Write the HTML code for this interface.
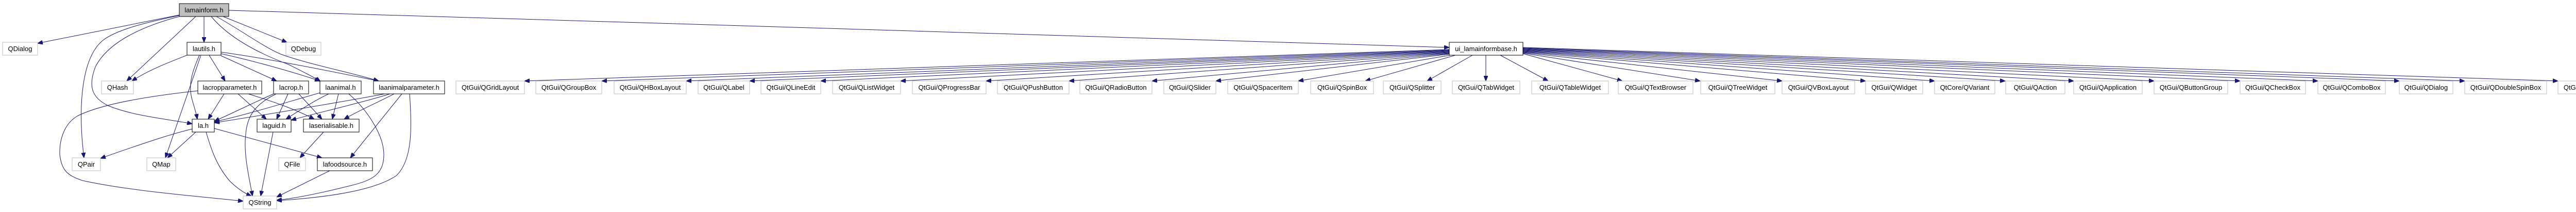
<!DOCTYPE html>
<html><head><meta charset="utf-8"><style>
html,body{margin:0;padding:0;background:#fff;width:5077px;height:411px;overflow:hidden;}
svg{display:block;}
text{font-family:"Liberation Sans",Arial,sans-serif;font-size:13px;fill:#000;text-anchor:middle;}
.n{fill:#fff;stroke:#000;stroke-width:1;}
.g{fill:#fff;stroke:#bfbfbf;stroke-width:1;}
.e{fill:none;stroke:#191970;stroke-width:1;marker-end:url(#a);}
</style></head><body>
<svg width="5077" height="411" viewBox="0 0 5077 411" xmlns="http://www.w3.org/2000/svg">
<defs><marker id="a" markerUnits="userSpaceOnUse" markerWidth="11" markerHeight="8" refX="10" refY="4" orient="auto"><path d="M0,0 L10,4 L0,8 z" fill="#191970" stroke="#191970"/></marker></defs>

<path class="e" d="M348,29 L73,84"/>
<path class="e" d="M348,30 C300,40 230,55 200,78 C160,110 150,200 163,306"/>
<path class="e" d="M348,32 C280,50 210,80 185,130 C170,170 180,190 210,205 C260,225 320,230 373,240"/>
<path class="e" d="M380,32 L246,157"/>
<path class="e" d="M396,32 L396,82"/>
<path class="e" d="M433,32 L557,82"/>
<path class="e" d="M410,32 C450,80 520,110 560,125 C590,140 610,150 622,158"/>
<path class="e" d="M420,32 C470,60 510,90 545,105 C600,125 680,140 735,157"/>
<path class="e" d="M444,20 C1200,40 2300,80 2813,92"/>

<path class="e" d="M363,107 C330,120 290,135 256,157"/>
<path class="e" d="M390,107 L321,306"/>
<path class="e" d="M387,107 C375,135 365,160 372,190 C376,205 380,215 383,231"/>
<path class="e" d="M406,107 L437,157"/>
<path class="e" d="M429,108 L537,157"/>
<path class="e" d="M429,104 C500,120 570,140 621,157"/>
<path class="e" d="M429,101 C530,115 650,140 735,157"/>

<path class="e" d="M384,176 C300,185 200,200 150,225 C125,240 115,270 116,300 C120,330 130,340 160,350 C250,370 380,380 472,390"/>
<path class="e" d="M435,182 L404,231"/>
<path class="e" d="M462,182 L517,231"/>
<path class="e" d="M482,182 C540,200 580,215 610,231"/>

<path class="e" d="M531,182 C490,200 450,220 416,235"/>
<path class="e" d="M536,182 C500,200 480,220 477,260 C472,300 485,350 490,380"/>
<path class="e" d="M559,182 L537,231"/>
<path class="e" d="M580,182 L625,231"/>

<path class="e" d="M621,180 C550,200 470,225 416,236"/>
<path class="e" d="M638,182 C610,195 580,215 555,231"/>
<path class="e" d="M657,182 L645,231"/>
<path class="e" d="M677,182 C710,210 745,260 745,300 C745,340 720,350 680,360 C620,375 570,385 537,388"/>

<path class="e" d="M747,182 C650,200 500,225 416,238"/>
<path class="e" d="M757,182 C700,200 610,220 565,233"/>
<path class="e" d="M765,182 C730,200 695,215 668,231"/>
<path class="e" d="M780,182 L680,306"/>
<path class="e" d="M795,182 C800,250 800,310 770,340 C720,375 600,385 537,389"/>

<path class="e" d="M373,250 C340,258 300,270 195,307"/>
<path class="e" d="M380,256 L325,306"/>
<path class="e" d="M400,256 C410,290 420,320 445,350 C460,365 475,375 488,380"/>
<path class="e" d="M416,249 L625,306"/>
<path class="e" d="M530,256 L506,380"/>
<path class="e" d="M628,256 L582,306"/>
<path class="e" d="M640,331 L537,382"/>

<path class="e" d="M2813,96 L1018,157"/>
<path class="e" d="M2813,97 L1168,157"/>
<path class="e" d="M2813,98 L1332,157"/>
<path class="e" d="M2813,99 L1455,157"/>
<path class="e" d="M2813,100 L1593,157"/>
<path class="e" d="M2813,101 L1748,157"/>
<path class="e" d="M2813,102 L1914,157"/>
<path class="e" d="M2813,103 L2075,157"/>
<path class="e" d="M2813,104 L2236,157"/>
<path class="e" d="M2813,105 L2360,157"/>
<path class="e" d="M2815,107 L2520,157"/>
<path class="e" d="M2825,107 L2650,157"/>
<path class="e" d="M2858,107 L2770,157"/>
<path class="e" d="M2884,107 L2884,157"/>
<path class="e" d="M2912,107 L3005,157"/>
<path class="e" d="M2956,104 L3149,157"/>
<path class="e" d="M2956,103 L3300,157"/>
<path class="e" d="M2956,102 L3459,157"/>
<path class="e" d="M2956,101 L3621,157"/>
<path class="e" d="M2956,100 L3755,157"/>
<path class="e" d="M2956,99 L3892,157"/>
<path class="e" d="M2956,98 L4025,157"/>
<path class="e" d="M2956,97 L4181,157"/>
<path class="e" d="M2956,96 L4348,157"/>
<path class="e" d="M2956,95 L4499,157"/>
<path class="e" d="M2956,94 L4657,157"/>
<path class="e" d="M2956,93 L4784,157"/>
<path class="e" d="M2956,92 L4965,157"/>

<rect x="348" y="7" width="96" height="25" fill="#bfbfbf" stroke="#000"/><text x="396" y="24">lamainform.h</text>
<rect class="n" x="363" y="82" width="66" height="25"/><text x="396" y="99">lautils.h</text>
<rect class="g" x="5" y="82" width="68" height="25"/><text x="39" y="99">QDialog</text>
<rect class="g" x="555" y="82" width="68" height="25"/><text x="589" y="99">QDebug</text>
<rect class="g" x="197" y="157" width="62" height="25"/><text x="228" y="174">QHash</text>
<rect class="n" x="384" y="157" width="124" height="25"/><text x="446" y="174">lacropparameter.h</text>
<rect class="n" x="531" y="157" width="68" height="25"/><text x="565" y="174">lacrop.h</text>
<rect class="n" x="621" y="157" width="80" height="25"/><text x="661" y="174">laanimal.h</text>
<rect class="n" x="725" y="157" width="138" height="25"/><text x="794" y="174">laanimalparameter.h</text>
<rect class="n" x="373" y="231" width="43" height="25"/><text x="394.5" y="248">la.h</text>
<rect class="n" x="499" y="231" width="66" height="25"/><text x="532" y="248">laguid.h</text>
<rect class="n" x="589" y="231" width="108" height="25"/><text x="643" y="248">laserialisable.h</text>
<rect class="g" x="140" y="306" width="55" height="25"/><text x="167.5" y="323">QPair</text>
<rect class="g" x="285" y="306" width="56" height="25"/><text x="313" y="323">QMap</text>
<rect class="g" x="541" y="306" width="52" height="25"/><text x="567" y="323">QFile</text>
<rect class="n" x="616" y="306" width="107" height="25"/><text x="669.5" y="323">lafoodsource.h</text>
<rect class="g" x="472" y="380" width="65" height="25"/><text x="504.5" y="397">QString</text>
<rect class="n" x="2813" y="82" width="143" height="25"/><text x="2884.5" y="99">ui_lamainformbase.h</text>

<rect class="g" x="885" y="157" width="133" height="25"/><text x="951.5" y="174">QtGui/QGridLayout</text>
<rect class="g" x="1040" y="157" width="128" height="25"/><text x="1104" y="174">QtGui/QGroupBox</text>
<rect class="g" x="1192" y="157" width="140" height="25"/><text x="1262" y="174">QtGui/QHBoxLayout</text>
<rect class="g" x="1355" y="157" width="100" height="25"/><text x="1405" y="174">QtGui/QLabel</text>
<rect class="g" x="1477" y="157" width="116" height="25"/><text x="1535" y="174">QtGui/QLineEdit</text>
<rect class="g" x="1616" y="157" width="132" height="25"/><text x="1682" y="174">QtGui/QListWidget</text>
<rect class="g" x="1771" y="157" width="143" height="25"/><text x="1842.5" y="174">QtGui/QProgressBar</text>
<rect class="g" x="1936" y="157" width="139" height="25"/><text x="2005.5" y="174">QtGui/QPushButton</text>
<rect class="g" x="2096" y="157" width="140" height="25"/><text x="2166" y="174">QtGui/QRadioButton</text>
<rect class="g" x="2259" y="157" width="101" height="25"/><text x="2309.5" y="174">QtGui/QSlider</text>
<rect class="g" x="2383" y="157" width="137" height="25"/><text x="2451.5" y="174">QtGui/QSpacerItem</text>
<rect class="g" x="2544" y="157" width="122" height="25"/><text x="2605" y="174">QtGui/QSpinBox</text>
<rect class="g" x="2685" y="157" width="112" height="25"/><text x="2741" y="174">QtGui/QSplitter</text>
<rect class="g" x="2819" y="157" width="131" height="25"/><text x="2884.5" y="174">QtGui/QTabWidget</text>
<rect class="g" x="2973" y="157" width="149" height="25"/><text x="3047.5" y="174">QtGui/QTableWidget</text>
<rect class="g" x="3141" y="157" width="145" height="25"/><text x="3213.5" y="174">QtGui/QTextBrowser</text>
<rect class="g" x="3301" y="157" width="144" height="25"/><text x="3373" y="174">QtGui/QTreeWidget</text>
<rect class="g" x="3459" y="157" width="141" height="25"/><text x="3529.5" y="174">QtGui/QVBoxLayout</text>
<rect class="g" x="3621" y="157" width="111" height="25"/><text x="3676.5" y="174">QtGui/QWidget</text>
<rect class="g" x="3755" y="157" width="117" height="25"/><text x="3813.5" y="174">QtCore/QVariant</text>
<rect class="g" x="3893" y="157" width="115" height="25"/><text x="3950.5" y="174">QtGui/QAction</text>
<rect class="g" x="4025" y="157" width="133" height="25"/><text x="4091.5" y="174">QtGui/QApplication</text>
<rect class="g" x="4181" y="157" width="143" height="25"/><text x="4252.5" y="174">QtGui/QButtonGroup</text>
<rect class="g" x="4348" y="157" width="127" height="25"/><text x="4411.5" y="174">QtGui/QCheckBox</text>
<rect class="g" x="4499" y="157" width="131" height="25"/><text x="4564.5" y="174">QtGui/QComboBox</text>
<rect class="g" x="4657" y="157" width="104" height="25"/><text x="4709" y="174">QtGui/QDialog</text>
<rect class="g" x="4784" y="157" width="159" height="25"/><text x="4863.5" y="174">QtGui/QDoubleSpinBox</text>
<rect class="g" x="4965" y="157" width="107" height="25"/><text x="5018.5" y="174">QtGui/QFrame</text>
</svg>
</body></html>
